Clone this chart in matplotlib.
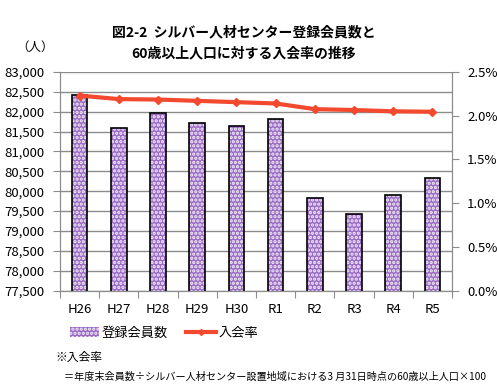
import numpy as np
import matplotlib.pyplot as plt
from matplotlib.lines import Line2D
from matplotlib.patches import Patch
from matplotlib.ticker import FuncFormatter, MultipleLocator

plt.rcParams['font.family'] = ['Noto Sans CJK JP', 'DejaVu Sans']
plt.rcParams['hatch.linewidth'] = 1.6

years = ["H26", "H27", "H28", "H29", "H30", "R1", "R2", "R3", "R4", "R5"]
members = [82430, 81590, 81960, 81710, 81640, 81810, 79830, 79430, 79900, 80340]
join_rate = [2.23, 2.19, 2.185, 2.17, 2.155, 2.14, 2.075, 2.065, 2.05, 2.045]

bar_color = "#9a6cc4"
line_color = "#f2492f"
grid_color = "#8c8c8c"

fig = plt.figure(figsize=(4.97, 3.90), dpi=100)
ax = fig.add_axes([60 / 497, 1 - 290.5 / 390, 392 / 497, 218.5 / 390])
ax2 = ax.twinx()

x = np.arange(len(years))
# patterned fill, then black outline on top
ax.bar(x, members, width=0.4, color=bar_color, edgecolor="#f4eefa", hatch="....",
       linewidth=0, zorder=2)
ax.bar(x, members, width=0.4, fill=False, edgecolor="black", linewidth=1.2, zorder=3)

ax.set_ylim(77500, 83000)
ax.set_xlim(-0.5, len(years) - 0.5)
ax.yaxis.set_major_locator(MultipleLocator(500))
ax.yaxis.set_major_formatter(FuncFormatter(lambda v, p: f"{int(v):,}"))
ax.grid(axis="y", color=grid_color, linewidth=1, zorder=0)
ax.set_axisbelow(True)

ax.set_xticks(np.arange(-0.5, len(years), 1))
ax.set_xticklabels([])
ax.set_xticks(x, minor=True)
ax.set_xticklabels(years, minor=True)
ax.tick_params(axis="x", which="major", length=5, color=grid_color)
ax.tick_params(axis="x", which="minor", length=0, pad=9, labelsize=9.5)
ax.tick_params(axis="y", length=5, color=grid_color, labelsize=9.5, pad=6)

ax2.plot(x, join_rate, color=line_color, linewidth=3, marker="D", markersize=4,
         zorder=4)
ax2.set_ylim(0, 2.5)
ax2.yaxis.set_major_locator(MultipleLocator(0.5))
ax2.yaxis.set_major_formatter(FuncFormatter(lambda v, p: f"{v:.1f}%"))
ax2.tick_params(axis="y", length=5, color=grid_color, labelsize=9.5, pad=6)

for a in (ax, ax2):
    for s in a.spines.values():
        s.set_color(grid_color)
    a.spines["top"].set_visible(False)

fig.text(0.49, 0.918, "図2-2  シルバー人材センター登録会員数と", ha="center", va="center",
         fontsize=10, fontweight="bold")
fig.text(0.49, 0.864, "60歳以上人口に対する入会率の推移", ha="center", va="center",
         fontsize=10, fontweight="bold")
fig.text(35 / 497, 1 - 47 / 390, "（人）", ha="center", va="center", fontsize=9)

handles = [Patch(facecolor=bar_color, edgecolor="#f4eefa", hatch="....", linewidth=0),
           Line2D([0], [0], color=line_color, linewidth=3, marker="D", markersize=3)]
leg = fig.legend(handles, ["登録会員数", "入会率"], loc="center", ncol=2,
                 bbox_to_anchor=(0.33, 1 - 333 / 390), frameon=False, fontsize=9.5,
                 handlelength=2.2, columnspacing=1.4, handletextpad=0.2)

fig.text(55 / 497, 1 - 357 / 390, "※入会率", ha="left", va="center", fontsize=8.5)
fig.text(64 / 497, 1 - 377 / 390,
         "＝年度末会員数÷シルバー人材センター設置地域における3 月31日時点の60歳以上人口×100",
         ha="left", va="center", fontsize=7.3)

fig.savefig("out.png", dpi=100)
